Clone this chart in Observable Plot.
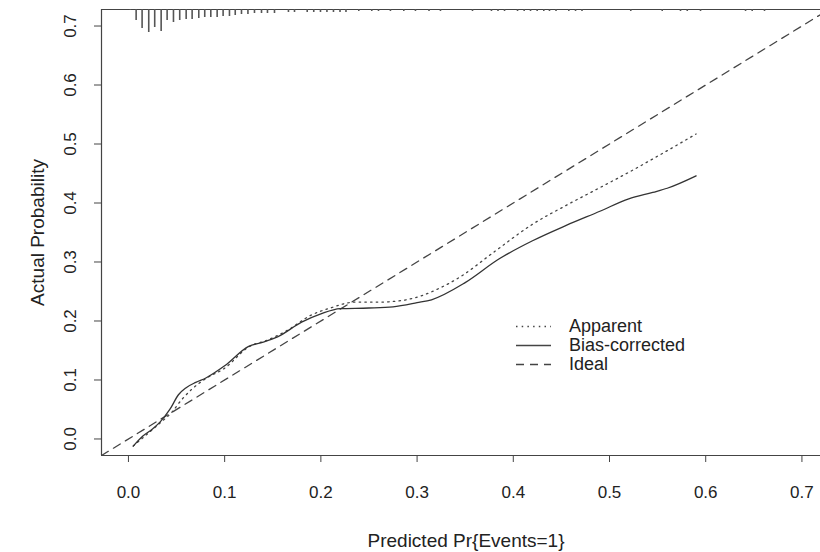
<!DOCTYPE html>
<html>
<head>
<meta charset="utf-8">
<script src="https://cdn.jsdelivr.net/npm/d3@7"></script>
<script src="https://cdn.jsdelivr.net/npm/@observablehq/plot@0.6"></script>
<style>
  html, body { margin: 0; padding: 0; background: #fff; }
  #wrap { position: relative; width: 820px; height: 552px; }
  #legend { position: absolute; left: 515px; top: 317px; font-family: "Liberation Sans", Arial, sans-serif; font-size: 18px; color: #222; line-height: 19px; }
  #legend div { display: flex; align-items: center; height: 19px; }
  #legend svg { margin-right: 17px; }
</style>
</head>
<body>
<div id="wrap"></div>
<script>
// Tick labels
const xTicks = [0.0, 0.1, 0.2, 0.3, 0.4, 0.5, 0.6, 0.7];
const yTicks = [0.0, 0.1, 0.2, 0.3, 0.4, 0.5, 0.6, 0.7];

// Apparent calibration curve (dotted)
const apparentX = [0.005, 0.015, 0.025, 0.035, 0.045, 0.055, 0.065, 0.08, 0.1, 0.125, 0.145, 0.165, 0.19, 0.21, 0.235, 0.26, 0.285, 0.305, 0.32, 0.345, 0.38, 0.42, 0.455, 0.49, 0.52, 0.555, 0.59];
const apparentY = [-0.012, 0.002, 0.016, 0.03, 0.045, 0.066, 0.083, 0.102, 0.12, 0.156, 0.168, 0.184, 0.21, 0.222, 0.232, 0.232, 0.235, 0.243, 0.253, 0.275, 0.317, 0.364, 0.396, 0.426, 0.452, 0.484, 0.517];

// Bias-corrected calibration curve (solid)
const biasX = [0.005, 0.015, 0.025, 0.033, 0.043, 0.052, 0.06, 0.07, 0.08, 0.1, 0.125, 0.14, 0.155, 0.18, 0.2, 0.22, 0.25, 0.275, 0.3, 0.315, 0.35, 0.385, 0.42, 0.455, 0.49, 0.52, 0.545, 0.56, 0.59];
const biasY = [-0.012, 0.005, 0.017, 0.029, 0.05, 0.075, 0.087, 0.096, 0.103, 0.124, 0.157, 0.164, 0.173, 0.198, 0.212, 0.221, 0.222, 0.224, 0.231, 0.236, 0.265, 0.305, 0.336, 0.362, 0.386, 0.407, 0.418, 0.425, 0.446];

// Distribution of predicted values (spikes at top), relative frequency
const histX = [0.002, 0.008, 0.0142, 0.0211, 0.0273, 0.034, 0.0402, 0.0468, 0.0533, 0.06, 0.0662, 0.0731, 0.0793, 0.0856, 0.0922, 0.0984, 0.105, 0.111,
  0.1175, 0.1242, 0.131, 0.1383, 0.1445, 0.1518, 0.1663, 0.1726, 0.1858, 0.1926, 0.1996, 0.2063, 0.2131, 0.2199, 0.2261, 0.2394, 0.2529, 0.2599, 0.2723,
  0.2862, 0.2983, 0.3124, 0.3243, 0.3576, 0.3773, 0.3841, 0.3909, 0.4044, 0.4113, 0.4179, 0.4248, 0.4317, 0.4376, 0.4444, 0.4577, 0.4647, 0.4714,
  0.5221, 0.5548, 0.5738, 0.5808, 0.5946, 0.6414, 0.6483, 0.6611];
const histFreq = [1, 11, 19, 23, 18, 22, 11, 13, 11, 10, 10, 9, 8, 8, 8, 7, 7, 6,
  5, 5, 4, 4, 4, 4, 3, 3, 3, 3, 3, 3, 3, 3, 3, 2, 2, 2, 2,
  2, 2, 2, 2, 2, 2, 2, 2, 2, 2, 2, 2, 2, 2, 2, 2, 2, 2,
  2, 2, 2, 2, 2, 2, 2, 2];

const xDomain = [-0.028, 0.7193];
const yDomain = [-0.028, 0.728];

const apparent = apparentX.map((x, i) => ({x, y: apparentY[i]}));
const bias = biasX.map((x, i) => ({x, y: biasY[i]}));
const hist = histX.map((x, i) => ({x, f: histFreq[i]}));
const ideal = [{x: xDomain[0], y: xDomain[0]}, {x: xDomain[1], y: xDomain[1]}];

const spikeUnit = (yDomain[1] - yDomain[0]) / 446; // one frequency unit ~ one pixel

const font = "'Liberation Sans', Arial, sans-serif";

const chart = Plot.plot({
  width: 820,
  height: 552,
  marginLeft: 101,
  marginRight: 0,
  marginTop: 9,
  marginBottom: 97,
  x: {domain: xDomain},
  y: {domain: yDomain},
  style: {fontFamily: font, fontSize: "17px", color: "#222", background: "#fff"},
  marks: [
    // frame (top, left, bottom)
    Plot.ruleY([yDomain[1], yDomain[0]], {stroke: "#444", strokeWidth: 1.2}),
    Plot.ruleX([xDomain[0]], {stroke: "#444", strokeWidth: 1.2}),
    // axes
    Plot.axisX({ticks: xTicks, tickSize: 7, tickPadding: 23, tickFormat: d => d.toFixed(1), label: null, stroke: "#444", fontSize: 17}),
    Plot.axisY({ticks: yTicks, tickSize: 7, tickFormat: () => "", label: null, stroke: "#444"}),
    Plot.text(yTicks, {y: d => d, text: d => d.toFixed(1), frameAnchor: "left", dx: -31, rotate: -90, textAnchor: "middle", lineAnchor: "middle", fill: "#222", fontSize: 17}),
    Plot.text(["Predicted Pr{Events=1}"], {text: d => d, frameAnchor: "bottom", dx: 5, dy: 85, lineAnchor: "middle", fill: "#222", fontSize: 19}),
    Plot.text(["Actual Probability"], {text: d => d, frameAnchor: "left", dx: -64, rotate: -90, textAnchor: "middle", lineAnchor: "middle", fill: "#222", fontSize: 19}),
    // spikes
    Plot.ruleX(hist, {x: "x", y1: yDomain[1], y2: d => yDomain[1] - d.f * spikeUnit, stroke: "#555", strokeWidth: 1.6}),
    // ideal
    Plot.line(ideal, {x: "x", y: "y", stroke: "#444", strokeWidth: 1.3, strokeDasharray: "8,6", clip: true}),
    // apparent
    Plot.line(apparent, {x: "x", y: "y", curve: "monotone-x", stroke: "#444", strokeWidth: 1.3, strokeDasharray: "1.5,4.2"}),
    // bias-corrected
    Plot.line(bias, {x: "x", y: "y", curve: "monotone-x", stroke: "#333", strokeWidth: 1.3})
  ]
});

const wrap = document.getElementById("wrap");
wrap.appendChild(chart);

// legend
const legendItems = [
  {label: "Apparent", dash: "1.5,4.2"},
  {label: "Bias-corrected", dash: null},
  {label: "Ideal", dash: "8,6"}
];
const leg = document.createElement("div");
leg.id = "legend";
for (const it of legendItems) {
  const row = document.createElement("div");
  const s = document.createElementNS("http://www.w3.org/2000/svg", "svg");
  s.setAttribute("width", 37); s.setAttribute("height", 17);
  const l = document.createElementNS("http://www.w3.org/2000/svg", "line");
  l.setAttribute("x1", 1); l.setAttribute("x2", 36); l.setAttribute("y1", 8.5); l.setAttribute("y2", 8.5);
  l.setAttribute("stroke", "#444"); l.setAttribute("stroke-width", 1.3);
  if (it.dash) l.setAttribute("stroke-dasharray", it.dash);
  s.appendChild(l);
  row.appendChild(s);
  const t = document.createElement("span");
  t.textContent = it.label;
  row.appendChild(t);
  leg.appendChild(row);
}
wrap.appendChild(leg);
</script>
</body>
</html>
